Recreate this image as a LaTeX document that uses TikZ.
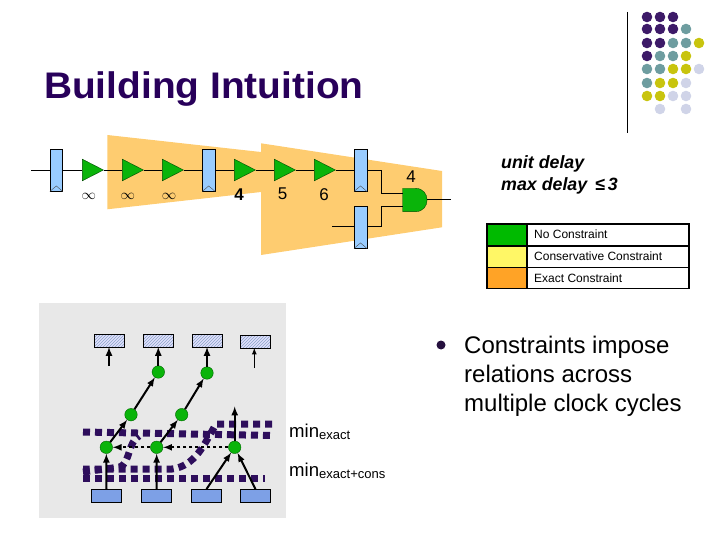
\documentclass[tikz,border=0pt]{standalone}
\usepackage{fontspec}
\setmainfont{Liberation Sans}
\usepackage{amsmath}
\usetikzlibrary{calc,patterns,shapes.geometric}
\definecolor{dotP}{RGB}{61,26,104}
\definecolor{dotT}{RGB}{110,157,160}
\definecolor{dotY}{RGB}{200,196,14}
\definecolor{dotL}{RGB}{208,212,232}
\definecolor{titlecol}{RGB}{40,0,90}
\definecolor{regblue}{RGB}{153,204,255}
\definecolor{zone}{RGB}{254,204,112}
\definecolor{gategreen}{RGB}{10,180,10}
\definecolor{dotwire}{RGB}{46,14,92}
\definecolor{srcblue}{RGB}{125,160,230}
\definecolor{hatchblue}{RGB}{140,165,200}
\tikzset{
  regbox/.style={draw, fill=regblue, inner sep=0pt, minimum width=12.5pt, minimum height=42.5pt},
  buf/.style={draw=black!70!green, fill=gategreen, isosceles triangle, isosceles triangle stretches, shape border rotate=0, inner sep=0pt, minimum width=21.5pt, minimum height=21pt},
  delay/.style={font=\fontsize{17}{20}\selectfont},
  inflabel/.style={font=\fontsize{14}{16}\selectfont},
  legtext/.style={anchor=west, inner sep=0pt, font=\fontsize{12}{14}\selectfont},
  hatchbox/.style={draw, preaction={fill=black!5!blue!12}, pattern=north east lines, pattern color=hatchblue, inner sep=0pt, minimum width=30pt, minimum height=12.5pt},
  srcbox/.style={draw, fill=srcblue, inner sep=0pt, minimum width=30pt, minimum height=12.5pt},
  dotnode/.style={circle, draw=black!60!green, fill=gategreen, inner sep=0pt, minimum size=12.5pt},
  edge/.style={-latex, line width=2pt},
  minwire/.style={dotwire, line width=7pt, dash pattern=on 7pt off 5pt},
}
\begin{document}
\begin{tikzpicture}[x=1pt,y=-1pt]
\useasboundingbox (0,0) rectangle (720,540);

\foreach \x/\y/\c in {647/17/dotP,660/17/dotP,673/17/dotP,
  647/29/dotP,660/29/dotP,673/29/dotP,686/29/dotT,
  647/43/dotP,660/43/dotP,673/43/dotT,686/43/dotT,699/43/dotY,
  647/56/dotP,660/56/dotT,673/56/dotT,686/56/dotY,
  647/69/dotT,660/69/dotT,673/69/dotY,686/69/dotY,699/69/dotL,
  647/83/dotT,660/83/dotY,673/83/dotY,686/83/dotL,
  647/96/dotY,660/96/dotY,673/96/dotL,686/96/dotL,
  660/109/dotL,686/109/dotL}
  \fill[\c] (\x,\y) circle (5.3);
\draw[line width=0.8pt] (627,12) -- (627,133);

\node[anchor=base west, inner sep=0pt, text=titlecol, xscale=1.05, transform shape, font=\fontsize{37}{44}\bfseries\selectfont] (title) at (44,98.5) {Building Intuition};

% shaded zones
\fill[zone] (107.3,135) -- (261,152) -- (261,192) -- (107.3,209.3) -- cycle;
\fill[zone] (261,143.3) -- (442,171) -- (442,227.3) -- (261,255) -- cycle;

\coordinate (in1) at (31,170);
\coordinate (in2) at (332,226);
\coordinate (out) at (450.7,199.5);
\node[regbox] (r1) at (56.3,170) {};
\node[regbox] (r2) at (208.7,170) {};
\node[regbox] (r3) at (360.5,170) {};
\node[regbox] (r4) at (360.5,227) {};
\foreach \r in {r1,r2,r3,r4}
  \draw[black!70] (\r.south west) -- ($(\r.south)+(0,-5.5)$) -- (\r.south east);

\node[buf] (g1) at (89,170) {};
\node[buf] (g2) at (129,170) {};
\node[buf] (g3) at (169,170) {};
\node[buf] (g4) at (241,170) {};
\node[buf] (g5) at (281,170) {};
\node[buf] (g6) at (321,170) {};

\draw[draw=black!70!green, fill=gategreen] (402.7,188.3) -- (415.3,188.3) .. controls (431,188.3) and (431,211.7) .. (415.3,211.7) -- (402.7,211.7) -- cycle;
\coordinate (and1) at (402.7,193.3);
\coordinate (and2) at (402.7,206);
\coordinate (and3) at (427,199.5);

\draw (in1) -- (r1.west);
\draw (r1.east) -- (g1.west);
\draw (g1.apex) -- (g2.west);
\draw (g2.apex) -- (g3.west);
\draw (g3.apex) -- (r2.west);
\draw (r2.east) -- (g4.west);
\draw (g4.apex) -- (g5.west);
\draw (g5.apex) -- (g6.west);
\draw (g6.apex) -- (r3.west);
\draw (in2) -- (r4.west |- in2);
\draw (r3.east) -| (381.3,193.3) -- (and1);
\draw (r4.east |- in2) -| (381.3,206) -- (and2);
\draw (and3) -- (out);

\node[inflabel] (d1) at (88.7,196) {$\infty$};
\node[inflabel] (d2) at (127.7,196) {$\infty$};
\node[inflabel] (d3) at (169,196) {$\infty$};
\node[delay] (d4) at (239,195) {\bfseries 4};
\node[delay] (d5) at (282.7,194) {5};
\node[delay] (d6) at (324,194.5) {6};
\node[delay] (d7) at (411,176.5) {4};

\node[anchor=north west, inner sep=0pt, align=left, font=\fontsize{17.8}{22}\bfseries\itshape\selectfont] (note) at (501,155.5) {unit delay\\max delay \,≤\,3};

% legend
\fill[green!73!black] (487,224) rectangle (526.7,245.7);
\fill[yellow!60!white] (487,245.7) rectangle (526.7,267.3);
\fill[orange!85!yellow!85!white] (487,267.3) rectangle (526.7,288);
\draw[line width=1.6pt] (487,224) rectangle (689,288.5);
\draw[line width=1.6pt] (487,245.7) -- (689,245.7);
\draw[line width=1.6pt] (487,267.3) -- (689,267.3);
\draw[line width=1.6pt] (526.7,224) -- (526.7,288.5);
\node[legtext] (l1) at (534,234.5) {No Constraint};
\node[legtext] (l2) at (534,256.5) {Conservative Constraint};
\node[legtext] (l3) at (534,278) {Exact Constraint};

% lower panel
\fill[black!9] (39,303.3) rectangle (285.7,518);

\node[hatchbox] (h1) at (109.3,340.5) {};
\node[hatchbox] (h2) at (158.5,340.5) {};
\node[hatchbox] (h3) at (207.5,340.5) {};
\node[hatchbox] (h4) at (255.5,341.5) {};
\node[srcbox] (b1) at (106.5,495.5) {};
\node[srcbox] (b2) at (156.5,495.5) {};
\node[srcbox] (b3) at (206.5,495.5) {};
\node[srcbox] (b4) at (255.5,495.5) {};

\draw[minwire] (83,432) -- (272,435.5);
\draw[minwire] (272,424) -- (216,424) .. controls (204,445) and (195,466) .. (172,469) -- (83,469);
\draw[minwire] (83,478.3) -- (265,478.3);
\draw[minwire] (83,472) -- (120,467) .. controls (130,463) and (128,442) .. (139,436);

\node[dotnode] (n1) at (158.3,372) {};
\node[dotnode] (n2) at (207,373) {};
\node[dotnode] (n3) at (131,414.7) {};
\node[dotnode] (n4) at (181.7,414.7) {};
\node[dotnode] (n5) at (106.3,447.3) {};
\node[dotnode] (n6) at (156.7,447.3) {};
\node[dotnode] (n7) at (234.7,447.3) {};
\coordinate (s1) at (109,366);
\coordinate (s4) at (254.3,368);
\coordinate (s7) at (234.7,406.5);

\draw[edge] (s1) -- (s1 |- h1.south);
\draw[edge] (n1) -- (h2.south -| n1);
\draw[edge] (n2) -- (h3.south -| n2);
\draw[-latex, line width=1.2pt] (s4) -- (s4 |- h4.south);
\draw[edge] (n3) -- (n1);
\draw[edge] (n4) -- (n2);
\draw[edge] (n5) -- (n3);
\draw[edge] (n6) -- (n4);
\draw[edge] (n7) -- (s7);
\draw[edge, dashed] (n7) -- (n6);
\draw[edge, dashed] (n6) -- (n5);
\draw[edge] (b1.north) -- (n5);
\draw[edge] (b2.north) -- (n6);
\draw[edge] (b3.north) -- (n7);
\draw[edge] (b4.north) -- (n7);

\node[anchor=base west, inner sep=0pt, font=\fontsize{18.6}{20}\selectfont] (m1) at (289,437) {min\textsubscript{exact}};
\node[anchor=base west, inner sep=0pt, font=\fontsize{18.6}{20}\selectfont] (m2) at (289,476) {min\textsubscript{exact+cons}};

\fill[dotP!60!black] (441,345) circle (4.5);
\node[anchor=north west, inner sep=0pt, align=left, font=\fontsize{24}{29}\selectfont] (txt) at (464,336) {Constraints impose\\relations across\\multiple clock cycles};

\end{tikzpicture}
\end{document}
